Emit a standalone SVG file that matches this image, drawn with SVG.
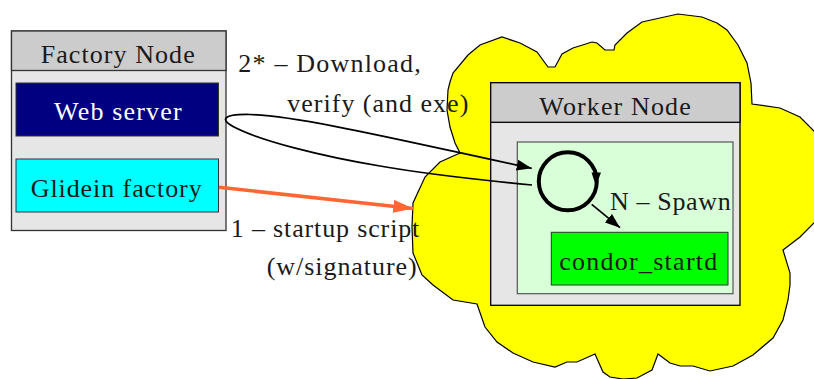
<svg xmlns="http://www.w3.org/2000/svg" width="814" height="379" viewBox="0 0 814 379">
<style>
  text { font-family: "Liberation Serif", "Times New Roman", serif; font-size: 26px; fill: #1a1a1a; }
  .hdr { fill: #cccccc; stroke: #333; stroke-width: 1.3; }
  .body { fill: #e6e6e6; stroke: #333; stroke-width: 1.3; }
  .conn { fill: none; stroke: #000; stroke-width: 1.7; }
  .orange { fill: none; stroke: #ff6633; stroke-width: 3.5; }
</style>
<defs>
  <marker id="ah" markerUnits="userSpaceOnUse" markerWidth="16" markerHeight="12" refX="15" refY="6" orient="auto">
    <path d="M0,0.5 L15,6 L0,11.5 z" fill="#000"/>
  </marker>
  <marker id="ahOrange" markerUnits="userSpaceOnUse" markerWidth="21" markerHeight="13" refX="20" refY="6.5" orient="auto">
    <path d="M0,0 L20,6.5 L0,13 z" fill="#ff6633"/>
  </marker>
</defs>

<g id="cloud">
  <path fill="#ffff00" stroke="#000" stroke-width="1.2" d="M450,82 L453,73 L468,55 L480,45 L502,37 L520,43 L537,52 L548,67 L555,67 L562,54 L573,48 L592,42 L597,43 L605,50 L614,50 L615,45 L627,33 L642,22 L678,14 L702,17 L717,23 L727,30 L738,45 L747,63 L751,83 L752,104 L780,108 L800,117 L814,131 L830,150 L830,210 L814,223 L800,237 L783,250 L790,273 L790,285 L788,300 L783,320 L773,338 L753,355 L733,366 L710,371 L693,366 L680,366 L670,363 L658,354 L652,370 L637,378 L623,379 L610,377 L603,372 L595,354 L577,362 L567,362 L555,367 L533,362 L513,353 L497,342 L485,327 L477,304 L453,300 L433,285 L422,275 L413,253 L412,227 L413,203 L425,177 L440,162 L460,153 L455,143 L450,127 L447,110 L448,90 Z"/>
</g>

<g id="factory-node">
  <rect class="body" x="11.5" y="31" width="214.5" height="199.5"/>
  <rect class="hdr" x="11.5" y="31" width="214.5" height="39.5"/>
  <text x="40.7" y="62.7" textLength="154" lengthAdjust="spacing">Factory Node</text>
</g>
<g id="web-server">
  <rect x="16" y="83" width="202.5" height="53" fill="#000080" stroke="#333" stroke-width="1"/>
  <text x="54" y="120" textLength="127.7" lengthAdjust="spacing" style="fill:#ffffff">Web server</text>
</g>
<g id="glidein-factory">
  <rect x="16" y="159" width="202.5" height="53" fill="#00ffff" stroke="#333" stroke-width="1"/>
  <text x="30.7" y="196.7" textLength="171" lengthAdjust="spacing">Glidein factory</text>
</g>

<g id="worker-node">
  <rect class="body" x="490.7" y="82.7" width="249.3" height="222.6" style="stroke:#000"/>
  <rect class="hdr" x="490.7" y="82.7" width="249.3" height="39.6" style="stroke:#000"/>
  <text x="539.3" y="115" textLength="151.4" lengthAdjust="spacing">Worker Node</text>
  <rect x="517.3" y="142" width="215.7" height="151.7" fill="#d9ffd9" stroke="#555" stroke-width="1.2"/>
</g>
<g id="loop">
  <circle cx="567.8" cy="181.3" r="29" fill="none" stroke="#000" stroke-width="4"/>
  <polygon points="591.5,172.5 601,172.5 596,186" fill="#000"/>
</g>
<g id="condor-startd">
  <rect x="551.3" y="232.3" width="176.7" height="52.7" fill="#00ff00" stroke="#333" stroke-width="1"/>
  <text x="559.3" y="270" textLength="158" lengthAdjust="spacing">condor_startd</text>
</g>

<g id="connectors">
  <path class="conn" marker-end="url(#ah)" d="M532,185 C480,180 420,173 380,166 C320,156 262,141 236,128 C219,120 222,114 250,114.5 C300,116 400,140 531.7,168.3"/>
  <path class="orange" marker-end="url(#ahOrange)" d="M219,187.3 L413.3,208.5"/>
  <path class="conn" stroke-width="1.5" marker-end="url(#ah)" d="M591.7,204.3 L620,227.7"/>
</g>

<g id="labels">
  <text x="238.3" y="71.7" textLength="182.4" lengthAdjust="spacing">2* – Download,</text>
  <text x="287.3" y="111.7" textLength="181" lengthAdjust="spacing">verify (and exe)</text>
  <text x="230.7" y="236.7" textLength="188.6" lengthAdjust="spacing">1 – startup script</text>
  <text x="266.7" y="275" textLength="150" lengthAdjust="spacing">(w/signature)</text>
  <text x="610" y="210" textLength="120.7" lengthAdjust="spacing">N – Spawn</text>
</g>
</svg>
